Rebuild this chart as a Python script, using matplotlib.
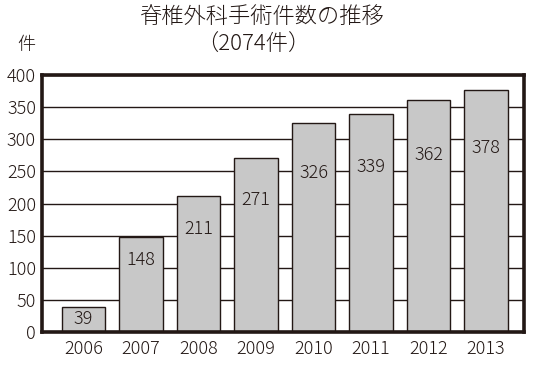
import matplotlib
matplotlib.use('Agg')
import numpy as np
from matplotlib import pyplot as plt

plt.rcParams['font.family'] = ['Noto Sans CJK JP', 'DejaVu Sans']
plt.rcParams['font.weight'] = 'light'

years = ['2006', '2007', '2008', '2009', '2010', '2011', '2012', '2013']
counts = [39, 148, 211, 271, 326, 339, 362, 378]
yticks = [0, 50, 100, 150, 200, 250, 300, 350, 400]

dark = '#231815'

fig = plt.figure(figsize=(5.33, 3.68), dpi=100)
ax = fig.add_axes([0.078, 0.099, 0.905, 0.696])

x = np.arange(len(years))
ax.bar(x, counts, width=0.755, color='#c8c8c8', edgecolor=dark, linewidth=1.0, zorder=2)

# value labels inside the bars
for xi, v in zip(x, counts):
    ly = v / 2 if v < 80 else v * 0.76
    ax.text(xi, ly, str(v), ha='center', va='center', fontsize=13, color=dark, zorder=3)

ax.set_xlim(-0.73, 7.66)
ax.set_ylim(0, 400)
ax.set_yticks(yticks)
ax.set_xticks(x)
ax.set_xticklabels(years)
ax.tick_params(length=0, labelsize=13, colors=dark)
ax.tick_params(axis='y', pad=4)
ax.tick_params(axis='x', pad=6)
ax.yaxis.grid(True, color=dark, linewidth=1.0, zorder=0)
ax.set_axisbelow(True)
for s in ax.spines.values():
    s.set_color(dark)
    s.set_linewidth(2.6)

fig.text(0.49, 0.95, '脊椎外科手術件数の推移', ha='center', va='center', fontsize=16, color=dark)
fig.text(0.475, 0.877, '（2074件）', ha='center', va='center', fontsize=16, color=dark)
fig.text(0.05, 0.877, '件', ha='center', va='center', fontsize=13, color=dark)

fig.savefig('out.png', dpi=100)
